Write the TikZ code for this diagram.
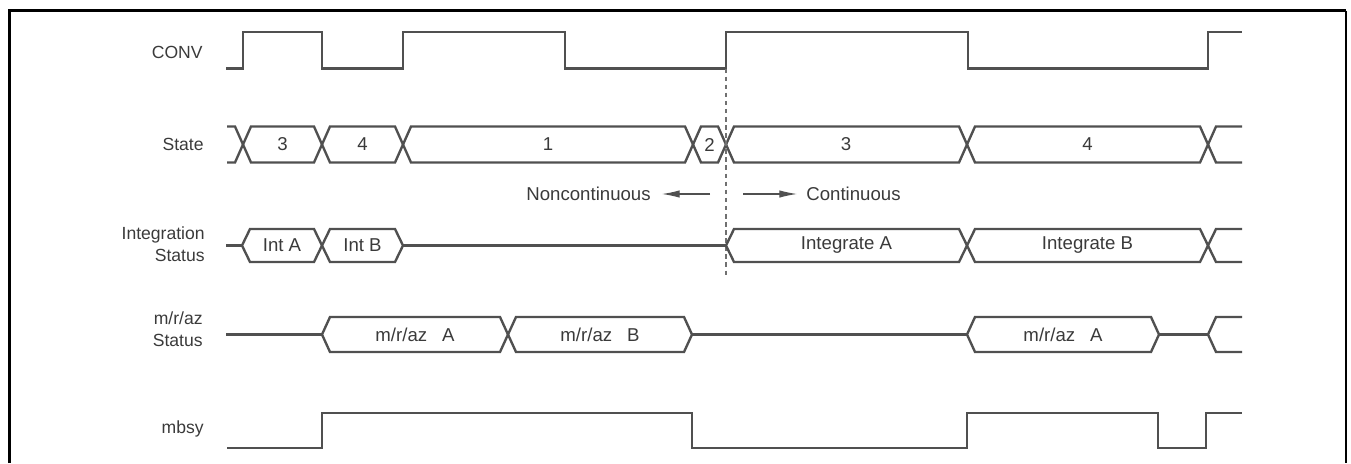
\documentclass[tikz,border=0pt]{standalone}
\usepackage{fontspec}
\setmainfont{Liberation Sans}
\usetikzlibrary{arrows.meta}
\definecolor{sigcol}{HTML}{505050}
\definecolor{txtcol}{HTML}{3A3A3A}
\definecolor{dashcol}{HTML}{707070}
\newcommand{\hexseg}[4]{%
  \draw[sig] (#1,{(#3+#4)/2}) -- (#1+8,#3) -- (#2-8,#3) -- (#2,{(#3+#4)/2}) -- (#2-8,#4) -- (#1+8,#4) -- cycle;}
\begin{document}
\begin{tikzpicture}[x=0.02cm,y=-0.02cm,
  sig/.style={draw=sigcol,line width=1.35pt,line join=miter},
  lbl/.style={text=txtcol,inner sep=0pt,font=\fontsize{10.6}{12.5}\selectfont},
  rowlbl/.style={lbl,anchor=east,align=right,font=\fontsize{10}{12.5}\selectfont},
  note/.style={draw=sigcol,line width=0.6pt,-{Latex[length=10pt,width=4.2pt]}}]
\useasboundingbox (0,0) rectangle (1351,463);
% frame
\draw[line width=1.7pt,black] (9.5,463) -- (9.5,10.5) -- (1346,10.5);
\draw[line width=1.2pt,black] (1346,10.5) -- (1346,463);
% row labels
\node[rowlbl] (lconv) at (203,52) {CONV};
\node[rowlbl] (lstate) at (204,144.5) {State};
\node[rowlbl] (lint) at (205,244) {Integration\\Status};
\node[rowlbl] (lmraz) at (203,329) {m/r/az\\Status};
\node[rowlbl] (lmbsy) at (204,429) {mbsy};
% CONV
\draw[sig] (226,68.5) -- (243,68.5) -- (243,32) -- (322,32) -- (322,68.5) -- (403,68.5) -- (403,32)
  -- (565,32) -- (565,68.5) -- (726,68.5) -- (726,32) -- (968,32) -- (968,68.5) -- (1208,68.5)
  -- (1208,32) -- (1242,32);
% State
\draw[sig] (227,126.5) -- (235,126.5) -- (243,144.5) -- (235,162.5) -- (227,162.5);
\hexseg{243}{322}{126.5}{162.5}
\hexseg{322}{403}{126.5}{162.5}
\hexseg{403}{693}{126.5}{162.5}
\hexseg{693}{726}{126.5}{162.5}
\hexseg{726}{967}{126.5}{162.5}
\hexseg{967}{1208}{126.5}{162.5}
\draw[sig] (1242,126.5) -- (1216,126.5) -- (1208,144.5) -- (1216,162.5) -- (1242,162.5);
\node[lbl] (s1) at (282.5,144.5) {3};
\node[lbl] (s2) at (362.5,144.5) {4};
\node[lbl] (s3) at (548,144.5) {1};
\node[lbl] (s4) at (709.5,144.5) {2};
\node[lbl] (s5) at (846,144.5) {3};
\node[lbl] (s6) at (1087.5,144.5) {4};
% continuity marker
\coordinate (dtop) at (726,68.5);
\coordinate (dbot) at (726,275);
\draw[dashcol,line width=0.7pt,dash pattern=on 2.6pt off 2pt] (dtop) -- (dbot);
\node[lbl,anchor=east] (nonc) at (651,194) {Noncontinuous};
\node[lbl,anchor=west] (cont) at (806,194) {Continuous};
\coordinate (na) at (710,194);
\coordinate (nb) at (662,194);
\coordinate (ca) at (743,194);
\coordinate (cb) at (797,194);
\draw[note] (na) -- (nb);
\draw[note] (ca) -- (cb);
% Integration status
\draw[sig] (226,245.5) -- (242,245.5);
\hexseg{242}{322}{229}{262}
\hexseg{322}{403}{229}{262}
\draw[sig] (403,245.5) -- (726,245.5);
\hexseg{726}{967}{229}{262}
\hexseg{967}{1208}{229}{262}
\draw[sig] (1242,229) -- (1216,229) -- (1208,245.5) -- (1216,262) -- (1242,262);
\node[lbl] (i1) at (282,245.5) {Int A};
\node[lbl] (i2) at (362.5,245.5) {Int B};
\node[lbl] (i3) at (846.5,245.5) {Integrate A};
\node[lbl] (i4) at (1087.5,245.5) {Integrate B};
% m/r/az status
\draw[sig] (226,334.5) -- (322,334.5);
\hexseg{322}{508}{317}{352}
\hexseg{508}{692}{317}{352}
\draw[sig] (692,334.5) -- (967,334.5);
\hexseg{967}{1159}{317}{352}
\draw[sig] (1159,334.5) -- (1208,334.5);
\draw[sig] (1242,317) -- (1216,317) -- (1208,334.5) -- (1216,352) -- (1242,352);
\node[lbl] (m1) at (415,334.5) {m/r/az\hspace{0.8em}A};
\node[lbl] (m2) at (600,334.5) {m/r/az\hspace{0.8em}B};
\node[lbl] (m3) at (1063,334.5) {m/r/az\hspace{0.8em}A};
% mbsy
\draw[sig] (227,448) -- (322,448) -- (322,413) -- (692,413) -- (692,448) -- (967,448) -- (967,413)
  -- (1158,413) -- (1158,448) -- (1206,448) -- (1206,413) -- (1242,413);
\end{tikzpicture}
\end{document}
